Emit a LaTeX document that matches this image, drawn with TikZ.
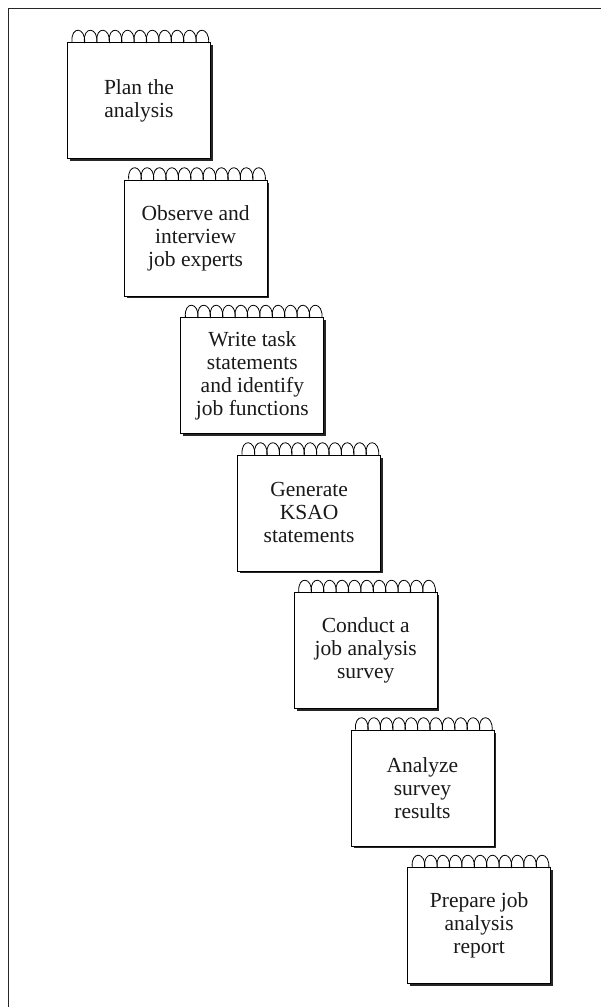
\documentclass[tikz,border=0pt]{standalone}
\usepackage{fontspec}
\setmainfont{Liberation Serif}
\usetikzlibrary{calc}
\begin{document}
\begin{tikzpicture}[x=1pt,y=-1pt,
  padbox/.style={draw=black, line width=0.9pt, fill=white, anchor=north west,
    minimum width=143pt, minimum height=116pt, inner sep=0pt, align=center,
    font=\fontsize{21.5}{23}\selectfont, text=black!90},
  padshadow/.style={fill=black!85, draw=none},
  spiral/.style={draw=black, line width=0.8pt},
  frameline/.style={draw=black!85, line width=1.3pt}
]
\useasboundingbox (0,0) rectangle (601,1007);
\draw[frameline] (8.5,1007) -- (8.5,8.5) -- (601,8.5);

\foreach \i/\t in {1/{Plan the\\analysis},
                   2/{Observe and\\interview\\job experts},
                   3/{Write task\\statements\\and identify\\job functions},
                   4/{Generate\\KSAO\\statements},
                   5/{Conduct a\\job analysis\\survey},
                   6/{Analyze\\survey\\results},
                   7/{Prepare job\\analysis\\report}} {
  \pgfmathsetmacro{\px}{67+56.7*(\i-1)}
  \pgfmathsetmacro{\py}{42+137.5*(\i-1)}
  \fill[padshadow] (\px+3,\py+3) rectangle (\px+145.5,\py+118.5);
  \node[padbox] (p\i) at (\px,\py) {\t};
  \foreach \k in {0,...,10} {
    \draw[spiral] ($(p\i.north west)+(5+12.4*\k,0)$)
      .. controls +(-1.5,-16.5) and +(1.5,-16.5) .. +(12.6,1.2);
  }
}
\end{tikzpicture}
\end{document}
